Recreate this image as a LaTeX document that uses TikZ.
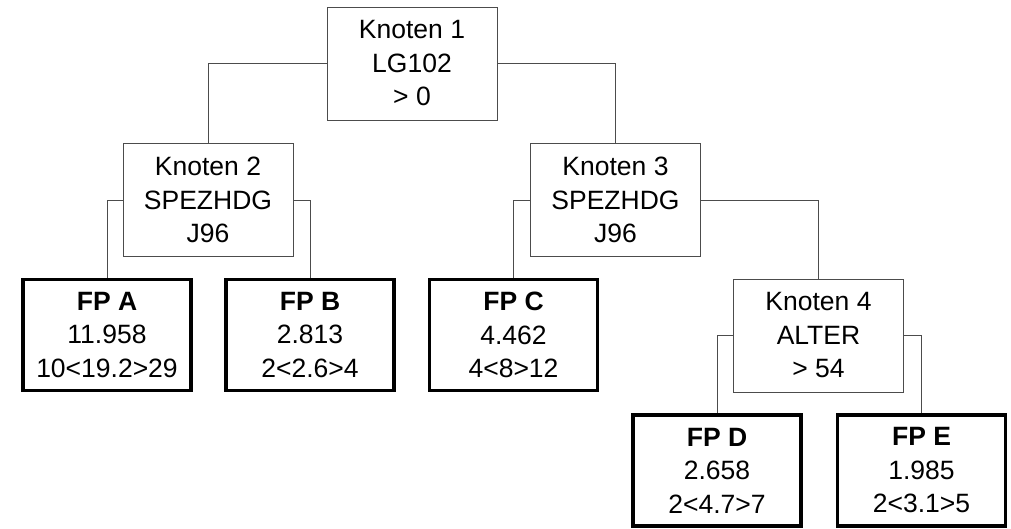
\documentclass[tikz,border=0pt]{standalone}
\usepackage{fontspec}
\setmainfont{Liberation Sans}
\begin{document}
\begin{tikzpicture}[x=1pt,y=-1pt,
  every node/.style={font=\fontsize{26.5}{33.5}\selectfont, align=center, inner sep=0pt},
  knoten/.style={draw=black!70, line width=1pt, fill=white, minimum width=170pt, minimum height=113pt},
  blatt/.style={draw=black, line width=3.5pt, fill=white, minimum width=168pt, minimum height=111pt},
  verb/.style={draw=black!70, line width=1pt}]
\useasboundingbox (0,0) rectangle (1011,528);
\node[knoten] (k1) at (412,63.5) {Knoten 1\\LG102\\> 0};
\node[knoten] (k2) at (208,200) {Knoten 2\\SPEZHDG\\J96};
\node[knoten] (k3) at (615.5,200) {Knoten 3\\SPEZHDG\\J96};
\node[blatt] (fa) at (107,335) {\textbf{FP A}\\11.958\\10<19.2>29};
\node[blatt] (fb) at (310,335) {\textbf{FP B}\\2.813\\2<2.6>4};
\node[blatt] (fc) at (513.5,335) {\textbf{FP C}\\4.462\\4<8>12};
\node[knoten] (k4) at (818.5,335.5) {Knoten 4\\ALTER\\> 54};
\node[blatt] (fd) at (717,470.5) {\textbf{FP D}\\2.658\\2<4.7>7};
\node[blatt] (fe) at (921.5,470.5) {\textbf{FP E}\\1.985\\2<3.1>5};
\draw[verb] (k1.west) -| (k2.north);
\draw[verb] (k1.east) -| (k3.north);
\draw[verb] (k2.west) -| (fa.north);
\draw[verb] (k2.east) -| (fb.north);
\draw[verb] (k3.west) -| (fc.north);
\draw[verb] (k3.east) -| (k4.north);
\draw[verb] (k4.west) -| (fd.north);
\draw[verb] (k4.east) -| (fe.north);
\end{tikzpicture}
\end{document}
